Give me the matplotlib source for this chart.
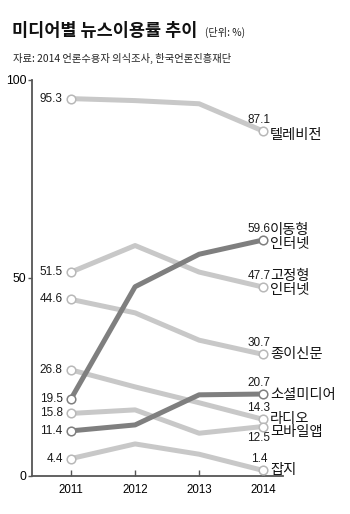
import matplotlib
matplotlib.use("Agg")
import matplotlib.pyplot as plt

plt.rcParams['font.family'] = ['Liberation Sans', 'Noto Sans CJK KR', 'DejaVu Sans']

years = [2011, 2012, 2013, 2014]
names = ['텔레비전', '이동형\n인터넷', '고정형\n인터넷', '종이신문', '소셜미디어', '라디오', '모바일앱', '잡지']
tv = [95.3, 94.8, 94.0, 87.1]
mobile_net = [19.5, 47.8, 56.0, 59.6]
fixed_net = [51.5, 58.2, 51.5, 47.7]
paper = [44.6, 41.2, 34.3, 30.7]
social = [11.4, 12.9, 20.5, 20.7]
radio = [26.8, 22.5, 18.5, 14.3]
mobile_app = [15.8, 16.7, 10.8, 12.5]
magazine = [4.4, 8.1, 5.5, 1.4]
series = [tv, mobile_net, fixed_net, paper, social, radio, mobile_app, magazine]
dark = [False, True, False, False, True, False, False, False]
yticks = [0, 50, 100]

LIGHT = '#c8c8c8'
DARK = '#7f7f7f'

name_dy = [-3, 5, 6, 0, -1, 0, -4, 0]
end_dy = [8, 8, 8, 8, 8, 8, -8, 8]

fig = plt.figure(figsize=(3.5, 5.14), dpi=100)
ax = fig.add_axes([32/350, 1-476/514, (283-32)/350, (476-80)/514])

for s, d in zip(series, dark):
    if d:
        continue
    ax.plot(years, s, color=LIGHT, lw=3.6, solid_capstyle='butt', zorder=2)
for s, d in zip(series, dark):
    if not d:
        continue
    ax.plot(years, s, color=DARK, lw=3.6, solid_capstyle='butt', zorder=3)
for s, d in zip(series, dark):
    ax.plot([years[0], years[-1]], [s[0], s[-1]], ls='none', marker='o', ms=6.2,
            mfc='white', mec=(DARK if d else '#b8b8b8'), mew=1.1, zorder=5)

for s, name, edy, ndy in zip(series, names, end_dy, name_dy):
    ax.annotate(f'{s[0]:.1f}', (years[0], s[0]), xytext=(-6, 0), textcoords='offset points',
                ha='right', va='center', fontsize=8.5, color='#1a1a1a')
    ax.annotate(f'{s[-1]:.1f}', (years[-1], s[-1]), xytext=(-3, edy), textcoords='offset points',
                ha='center', va='center', fontsize=8.5, color='#1a1a1a')
    if '\n' in name:
        ax.annotate(name, (years[-1], s[-1]), xytext=(5, ndy + 7), textcoords='offset points',
                    ha='left', va='top', fontsize=10.3, color='#111111', linespacing=1.0,
                    family=['Noto Sans CJK KR'])
    else:
        ax.annotate(name, (years[-1], s[-1]), xytext=(5, ndy), textcoords='offset points',
                    ha='left', va='center', fontsize=10.3, color='#111111',
                    family=['Noto Sans CJK KR'])

ax.set_xlim(2010.39, 2014.31)
ax.set_ylim(0, 100)
ax.set_xticks(years)
ax.set_xticklabels([str(y) for y in years], fontsize=8.3)
ax.set_yticks(yticks)
ax.set_yticklabels([str(y) for y in yticks], fontsize=8.8)
ax.tick_params(axis='x', direction='in', length=4, width=1, color='#555555', pad=6)
ax.tick_params(axis='y', direction='out', length=3, width=1, color='#555555', pad=1)
for sp in ['top', 'right']:
    ax.spines[sp].set_visible(False)
for sp in ['left', 'bottom']:
    ax.spines[sp].set_color('#555555')
    ax.spines[sp].set_linewidth(1.3)
ax.patch.set_alpha(0)

fig.text(12/350, 1-31/514, '미디어별 뉴스이용률 추이', fontsize=12.6, fontweight='bold',
         ha='left', va='center', family=['Noto Sans CJK KR'], color='#111111')
fig.text(205/350, 1-32/514, '(단위: %)', fontsize=7.3, ha='left', va='center',
         family=['Noto Sans CJK KR'], color='#222222')
fig.text(13/350, 1-58/514, '자료: 2014 언론수용자 의식조사, 한국언론진흥재단', fontsize=7.4,
         ha='left', va='center', family=['Noto Sans CJK KR', 'Liberation Sans'], color='#222222')

fig.savefig('out.png', dpi=100)
